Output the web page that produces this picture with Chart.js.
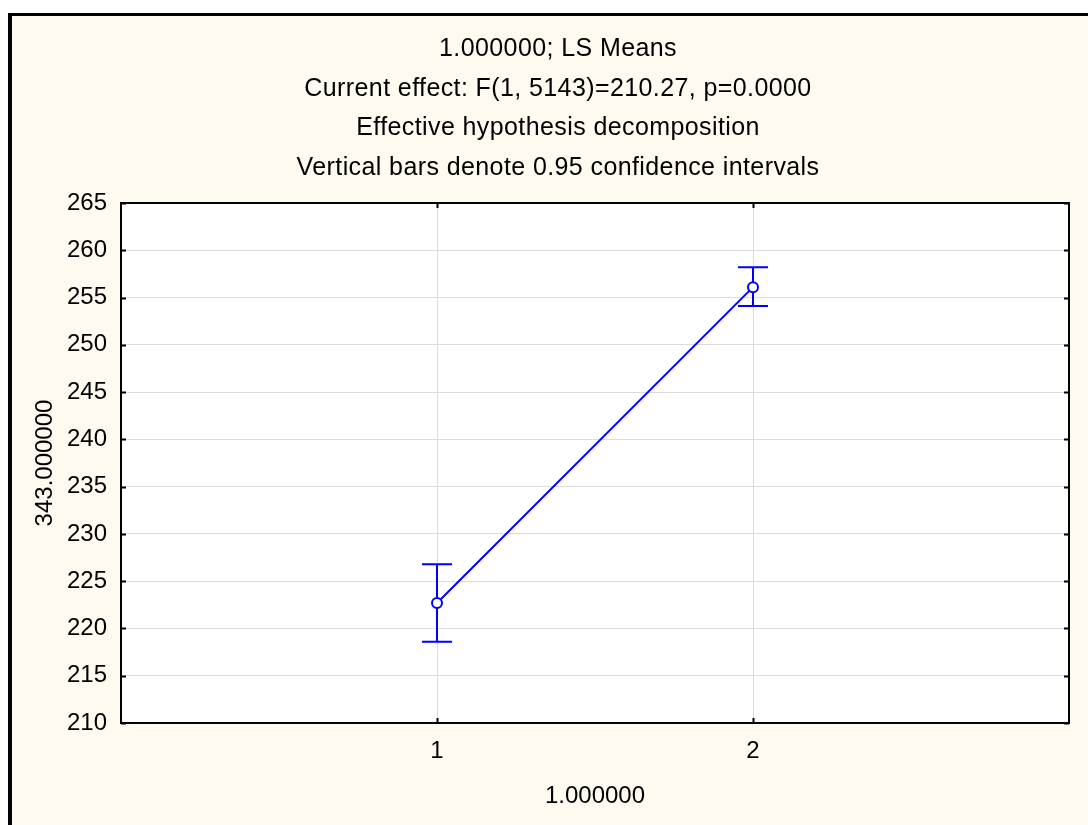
<!DOCTYPE html>
<html>
<head>
<meta charset="utf-8">
<script src="https://cdn.jsdelivr.net/npm/chart.js@4/dist/chart.umd.min.js"></script>
<style>
  html, body { margin: 0; padding: 0; background: #ffffff; }
  #panel {
    position: absolute; left: 8px; top: 13px; width: 1080px; height: 812px;
    background: #FEFAEF; border-top: 3px solid #000; border-left: 4px solid #000;
    box-sizing: border-box;
  }
  #wrap { position: absolute; left: 0; top: 0; width: 1088px; height: 825px; }
</style>
</head>
<body>
<div id="panel"></div>
<div id="wrap"><canvas id="c" width="1088" height="825"></canvas></div>
<script>
// Groups on the x axis and their labels
const groups = [1, 2];
const groupLabels = ['1', '2'];
// Least-squares means with 0.95 confidence limits
const lsMeans = [222.7, 256.1];
const ciLower = [218.6, 254.1];
const ciUpper = [226.8, 258.2];
// Value axis ticks
const yTicks = [210, 215, 220, 225, 230, 235, 240, 245, 250, 255, 260, 265];
// Text
const titleLines = [
  '1.000000; LS Means',
  'Current effect: F(1, 5143)=210.27, p=0.0000',
  'Effective hypothesis decomposition',
  'Vertical bars denote 0.95 confidence intervals'
];
const xTitle = '1.000000';
const yTitle = '343.000000';

const FONT = 'Liberation Sans, Arial, sans-serif';
const BLUE = '#0000FF';
const GRID = '#DCDCDC';

// White plot background
const plotBackground = {
  id: 'plotBackground',
  beforeDraw(chart) {
    const { ctx, chartArea: a } = chart;
    ctx.save();
    ctx.fillStyle = '#ffffff';
    ctx.fillRect(a.left, a.top, a.right - a.left, a.bottom - a.top);
    ctx.restore();
  }
};

// Four-line heading above the plot
const heading = {
  id: 'heading',
  afterDraw(chart) {
    const { ctx } = chart;
    ctx.save();
    ctx.fillStyle = '#000';
    ctx.font = '25px ' + FONT;
    if ('letterSpacing' in ctx) ctx.letterSpacing = '0.4px';
    ctx.textAlign = 'center';
    ctx.textBaseline = 'middle';
    titleLines.forEach((line, i) => {
      ctx.fillText(line, 558, 49 + i * 39.7);
    });
    ctx.restore();
  }
};

// Confidence interval whiskers with caps
const errorBars = {
  id: 'errorBars',
  beforeDatasetsDraw(chart) {
    const { ctx, scales: { x, y } } = chart;
    ctx.save();
    ctx.strokeStyle = BLUE;
    ctx.lineWidth = 2;
    groups.forEach((g, i) => {
      const px = x.getPixelForValue(g);
      const lo = y.getPixelForValue(ciLower[i]);
      const hi = y.getPixelForValue(ciUpper[i]);
      ctx.beginPath();
      ctx.moveTo(px, lo); ctx.lineTo(px, hi);
      ctx.moveTo(px - 15, lo); ctx.lineTo(px + 15, lo);
      ctx.moveTo(px - 15, hi); ctx.lineTo(px + 15, hi);
      ctx.stroke();
    });
    ctx.restore();
  }
};

// Black frame around the plot with inward tick marks on all sides
const plotFrame = {
  id: 'plotFrame',
  afterDraw(chart) {
    const { ctx, chartArea: a, scales: { x, y } } = chart;
    ctx.save();
    ctx.strokeStyle = '#000';
    ctx.lineWidth = 2;
    ctx.strokeRect(a.left, a.top, a.right - a.left, a.bottom - a.top);
    ctx.beginPath();
    yTicks.forEach(v => {
      const py = Math.round(y.getPixelForValue(v)) + 0.5;
      ctx.moveTo(a.left, py); ctx.lineTo(a.left + 5, py);
      ctx.moveTo(a.right, py); ctx.lineTo(a.right - 5, py);
    });
    groups.forEach(g => {
      const px = Math.round(x.getPixelForValue(g)) + 0.5;
      ctx.moveTo(px, a.bottom); ctx.lineTo(px, a.bottom - 5);
      ctx.moveTo(px, a.top); ctx.lineTo(px, a.top + 5);
    });
    ctx.stroke();
    ctx.restore();
  }
};

new Chart(document.getElementById('c'), {
  type: 'line',
  data: {
    datasets: [{
      label: yTitle,
      data: groups.map((g, i) => ({ x: g, y: lsMeans[i] })),
      borderColor: BLUE,
      borderWidth: 2,
      pointRadius: 5,
      pointBorderWidth: 2,
      pointBorderColor: BLUE,
      pointBackgroundColor: '#ffffff',
      tension: 0
    }]
  },
  options: {
    responsive: false,
    devicePixelRatio: 1,
    animation: false,
    layout: { padding: { left: 0, right: 19, top: 203, bottom: 0 } },
    plugins: {
      legend: { display: false },
      tooltip: { enabled: false },
      title: { display: false }
    },
    scales: {
      x: {
        type: 'linear',
        min: 0,
        max: 3,
        afterBuildTicks: s => { s.ticks = groups.map(v => ({ value: v })); },
        afterFit: s => { s.height = 102; },
        ticks: {
          callback: v => groupLabels[groups.indexOf(v)],
          color: '#000',
          font: { family: FONT, size: 24 },
          padding: 14,
          maxRotation: 0,
          autoSkip: false
        },
        grid: { color: GRID, lineWidth: 1, drawTicks: false },
        border: { display: false },
        title: {
          display: true,
          text: xTitle,
          color: '#000',
          font: { family: FONT, size: 24 },
          padding: { top: 0, bottom: 14 }
        }
      },
      y: {
        min: 210,
        max: 265,
        afterBuildTicks: s => { s.ticks = yTicks.map(v => ({ value: v })); },
        afterFit: s => { s.width = 121; },
        ticks: {
          color: '#000',
          font: { family: FONT, size: 24 },
          padding: 14
        },
        grid: { color: GRID, lineWidth: 1, drawTicks: false },
        border: { display: false },
        title: {
          display: true,
          text: yTitle,
          color: '#000',
          font: { family: FONT, size: 24 },
          padding: { top: 31, bottom: 0 }
        }
      }
    }
  },
  plugins: [plotBackground, errorBars, plotFrame, heading]
});
</script>
</body>
</html>
